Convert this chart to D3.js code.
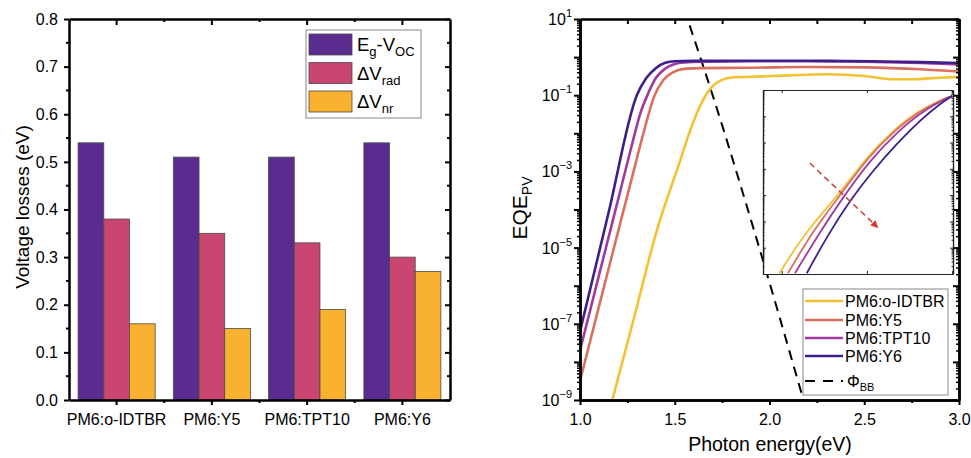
<!DOCTYPE html>
<html><head><meta charset="utf-8">
<script src="https://cdn.jsdelivr.net/npm/d3@7"></script>
<style>
body{margin:0;background:#fff}
svg{display:block}
text{font-family:"Liberation Sans",Arial,sans-serif;fill:#000}
</style>
</head><body>
<svg id="c" width="971" height="458"></svg>
<script>
// ---------------- data: left panel (voltage losses) ----------------
const categories = ["PM6:o-IDTBR", "PM6:Y5", "PM6:TPT10", "PM6:Y6"];
const lossKeys = ["egVoc", "dVrad", "dVnr"];
const egVoc = [0.54, 0.51, 0.51, 0.54];
const dVrad = [0.38, 0.35, 0.33, 0.30];
const dVnr  = [0.16, 0.15, 0.19, 0.27];
const lossTicks = [0, 0.1, 0.2, 0.3, 0.4, 0.5, 0.6, 0.7, 0.8];
const lossColors = ["#5b2c8f", "#c8466f", "#f9b130"];

// ---------------- data: right panel (EQE_PV vs photon energy) ----------------
const energyTicks = [1.0, 1.5, 2.0, 2.5, 3.0];
const eqeLabelTicks = [1e1, 1e-1, 1e-3, 1e-5, 1e-7, 1e-9];
// [photon energy (eV), EQE]
const eqeIDTBR = [[1.16,6.3e-10],[1.29,1.78e-7],[1.406,2.88e-5],[1.512,1.10e-3],[1.617,0.0339],[1.67,0.112],[1.74,0.240],[1.81,0.295],[1.9,0.302],[2.1,0.331],[2.3,0.355],[2.5,0.32],[2.65,0.263],[2.75,0.263],[2.9,0.288],[3.0,0.302]];
const eqeY5 = [[1.0,3.16e-9],[1.10,2.82e-7],[1.20,2.51e-5],[1.28,8.91e-4],[1.34,0.0126],[1.39,0.0891],[1.44,0.251],[1.49,0.398],[1.55,0.490],[1.65,0.513],[1.9,0.525],[2.2,0.55],[2.5,0.537],[2.8,0.479],[3.0,0.417]];
const eqeTPT10 = [[1.0,2.0e-8],[1.10,1.86e-6],[1.20,1.74e-4],[1.27,4.17e-3],[1.32,0.0355],[1.36,0.112],[1.40,0.282],[1.45,0.501],[1.50,0.661],[1.55,0.724],[1.65,0.759],[1.9,0.776],[2.2,0.78],[2.5,0.76],[2.8,0.70],[3.0,0.64]];
const eqeY6 = [[1.0,6.3e-8],[1.15,7.94e-5],[1.30,0.1],[1.35,0.282],[1.40,0.513],[1.45,0.708],[1.50,0.776],[1.6,0.794],[1.8,0.80],[2.0,0.80],[2.2,0.80],[2.4,0.79],[2.6,0.77],[2.8,0.74],[3.0,0.70]];
const phiBB = [[1.55,18],[1.70,0.1],[1.918,2.88e-5],[2.185,7.9e-10]];
const eqeNames = ["PM6:o-IDTBR", "PM6:Y5", "PM6:TPT10", "PM6:Y6"];
const eqeColors = ["#f3c232", "#d9705f", "#a03a9e", "#3d1f8c"];

// ---------------- data: inset (normalized sub-gap EQE) ----------------
const insetTicksX = [1.3, 1.4, 1.5];
const insIDTBR = [[1.2972,1.07e-7],[1.3294,4.79e-6],[1.3686,1.17e-4],[1.3998,2.88e-3],[1.4313,0.0302],[1.4588,0.151],[1.4862,0.417],[1.5,0.589]];
const insY5    = [[1.3074,1.07e-7],[1.3356,3.98e-6],[1.3686,1.0e-4],[1.4015,2.82e-3],[1.432,0.0275],[1.460,0.145],[1.4862,0.398],[1.5,0.589]];
const insTPT10 = [[1.3156,1.07e-7],[1.3427,3.09e-6],[1.3721,8.51e-5],[1.4039,2.19e-3],[1.4345,0.0234],[1.4627,0.135],[1.4886,0.417],[1.5,0.589]];
const insY6    = [[1.3294,1.07e-7],[1.3529,2.63e-6],[1.3804,6.61e-5],[1.4078,9.12e-4],[1.4353,9.33e-3],[1.4627,0.0724],[1.4862,0.309],[1.5,0.589]];
const insArrow = [[1.333,1.66e-3],[1.412,6.17e-6]];

const svg = d3.select("#c");
svg.append("rect").attr("width",971).attr("height",458).attr("fill","#fff");

function styleAxis(g, fs){
  g.attr("font-family",null).attr("font-size",null);
  g.selectAll("path.domain").attr("stroke","#000").attr("stroke-width",2.5);
  g.selectAll(".tick line").attr("stroke","#000").attr("stroke-width",2);
  g.selectAll(".tick text").attr("font-size",fs).attr("fill","#000");
}

// ================= LEFT PANEL =================
const L = {x0:69, x1:450, y0:19, y1:400};
const xb = d3.scaleBand().domain(categories).range([L.x0, L.x1]).paddingInner(0).paddingOuter(0);
const xs = d3.scaleBand().domain(lossKeys).range([9.1, xb.bandwidth()-9.1]);
const yl = d3.scaleLinear().domain([0, 0.8]).range([L.y1, L.y0]);
const lossData = {egVoc, dVrad, dVnr};

const gL = svg.append("g");
categories.forEach((c, i) => {
  lossKeys.forEach((k, j) => {
    gL.append("rect")
      .attr("x", xb(c) + xs(k))
      .attr("y", yl(lossData[k][i]))
      .attr("width", xs.bandwidth())
      .attr("height", yl(0) - yl(lossData[k][i]))
      .attr("fill", lossColors[j])
      .attr("stroke", "#4a4a4a").attr("stroke-width", 0.8);
  });
});

const lossMinor = d3.range(0.05, 0.8, 0.1);
const catBounds = categories.slice(1).map(c => xb(c));

let ax = gL.append("g").attr("transform",`translate(0,${L.y1})`)
  .call(d3.axisBottom(xb).tickSize(5).tickSizeOuter(0).tickPadding(9));
styleAxis(ax, 16);
catBounds.forEach(b => gL.append("line").attr("x1",b).attr("x2",b).attr("y1",L.y1).attr("y2",L.y1+3).attr("stroke","#000").attr("stroke-width",2));
ax = gL.append("g").attr("transform",`translate(0,${L.y0})`)
  .call(d3.axisTop(xb).tickSize(-6).tickSizeOuter(0).tickFormat(""));
styleAxis(ax, 16);
catBounds.forEach(b => gL.append("line").attr("x1",b).attr("x2",b).attr("y1",L.y0).attr("y2",L.y0+3).attr("stroke","#000").attr("stroke-width",2));
ax = gL.append("g").attr("transform",`translate(${L.x0},0)`)
  .call(d3.axisLeft(yl).tickValues(lossTicks).tickSize(5).tickPadding(6).tickSizeOuter(0).tickFormat(d3.format(".1f")));
styleAxis(ax, 16);
lossMinor.forEach(v => gL.append("line").attr("x1",L.x0-3).attr("x2",L.x0).attr("y1",yl(v)).attr("y2",yl(v)).attr("stroke","#000").attr("stroke-width",2));
ax = gL.append("g").attr("transform",`translate(${L.x1},0)`)
  .call(d3.axisRight(yl).tickValues(lossTicks).tickSize(-5).tickSizeOuter(0).tickFormat(""));
styleAxis(ax, 16);
lossMinor.forEach(v => gL.append("line").attr("x1",L.x1-3).attr("x2",L.x1).attr("y1",yl(v)).attr("y2",yl(v)).attr("stroke","#000").attr("stroke-width",2));

gL.append("text").attr("transform","translate(29,207) rotate(-90)")
  .attr("text-anchor","middle").attr("font-size",19).text("Voltage losses (eV)");

const lg = gL.append("g");
lg.append("rect").attr("x",306).attr("y",30).attr("width",115).attr("height",88)
  .attr("fill","#fff").attr("stroke","#888").attr("stroke-width",1);
const legRows = [
  [["E",""],["g","sub"],["-V",""],["OC","sub"]],
  [["ΔV",""],["rad","sub"]],
  [["ΔV",""],["nr","sub"]]
];
legRows.forEach((parts, i) => {
  const yy = 34 + i*28.5;
  lg.append("rect").attr("x",309).attr("y",yy).attr("width",43).attr("height",21)
    .attr("fill",lossColors[i]).attr("stroke","#4a4a4a").attr("stroke-width",0.8);
  const t = lg.append("text").attr("x",357).attr("y",yy+17).attr("font-size",18.5);
  let sub = false;
  parts.forEach(([s, kind]) => {
    const ts = t.append("tspan").text(s);
    if (kind === "sub" && !sub) { ts.attr("font-size",13).attr("dy",5); sub = true; }
    else if (kind === "sub" && sub) { ts.attr("font-size",13); }
    else if (kind !== "sub" && sub) { ts.attr("dy",-5); sub = false; }
  });
});

// ================= RIGHT PANEL =================
const R = {x0:580, x1:959, y0:19, y1:400};
const xe = d3.scaleLinear().domain([1, 3]).range([R.x0, R.x1]);
const ye = d3.scaleLog().domain([1e-9, 1e1]).range([R.y1, R.y0]);
const gR = svg.append("g");
gR.append("clipPath").attr("id","clipR").append("rect")
  .attr("x",R.x0).attr("y",R.y0).attr("width",R.x1-R.x0).attr("height",R.y1-R.y0);

const lineE = d3.line().x(d => xe(d[0])).y(d => ye(d[1])).curve(d3.curveMonotoneX);
const eqeSeries = [eqeIDTBR, eqeY5, eqeTPT10, eqeY6];
const curves = gR.append("g").attr("clip-path","url(#clipR)");
curves.append("path").datum(phiBB).attr("d", lineE).attr("fill","none")
  .attr("stroke","#000").attr("stroke-width",2).attr("stroke-dasharray","10,7");
eqeSeries.forEach((s, i) => {
  curves.append("path").datum(s).attr("d", lineE).attr("fill","none")
    .attr("stroke", eqeColors[i]).attr("stroke-width", 2.6);
});

const decades = d3.range(-9, 2).map(k => Math.pow(10, k));
const logMinor = [];
d3.range(-9, 1).forEach(k => d3.range(2, 10).forEach(m => logMinor.push(m * Math.pow(10, k))));
const eMinor = [1.25, 1.75, 2.25, 2.75];

ax = gR.append("g").attr("transform",`translate(0,${R.y1})`)
  .call(d3.axisBottom(xe).tickValues(energyTicks).tickSize(5).tickPadding(9).tickSizeOuter(0).tickFormat(d3.format(".1f")));
styleAxis(ax, 16);
ax = gR.append("g").attr("transform",`translate(0,${R.y1})`)
  .call(d3.axisBottom(xe).tickValues(eMinor).tickSize(3).tickSizeOuter(0).tickFormat(""));
styleAxis(ax, 16);
ax = gR.append("g").attr("transform",`translate(0,${R.y0})`)
  .call(d3.axisTop(xe).tickValues(energyTicks.concat(eMinor)).tickSize(-5).tickSizeOuter(0).tickFormat(""));
styleAxis(ax, 16);

ax = gR.append("g").attr("transform",`translate(${R.x0},0)`)
  .call(d3.axisLeft(ye).tickValues(decades).tickSize(6).tickSizeOuter(0).tickFormat(""));
styleAxis(ax, 16);
ax = gR.append("g").attr("transform",`translate(${R.x0},0)`)
  .call(d3.axisLeft(ye).tickValues(logMinor).tickSize(3).tickSizeOuter(0).tickFormat(""));
styleAxis(ax, 16); ax.selectAll(".tick line").attr("stroke-width",1.5);
ax = gR.append("g").attr("transform",`translate(${R.x1},0)`)
  .call(d3.axisRight(ye).tickValues(decades).tickSize(-6).tickSizeOuter(0).tickFormat(""));
styleAxis(ax, 16);
ax = gR.append("g").attr("transform",`translate(${R.x1},0)`)
  .call(d3.axisRight(ye).tickValues(logMinor).tickSize(-3).tickSizeOuter(0).tickFormat(""));
styleAxis(ax, 16); ax.selectAll(".tick line").attr("stroke-width",1.5);

eqeLabelTicks.forEach(v => {
  const e = Math.round(Math.log10(v));
  const t = gR.append("text").attr("x", R.x0 - 8).attr("y", ye(v) + 6)
    .attr("text-anchor","end").attr("font-size",16);
  t.append("tspan").text("10");
  t.append("tspan").attr("font-size",11).attr("dy",-8).text(e < 0 ? "\u2212" + (-e) : String(e));
});

gR.append("text").attr("transform","translate(527,208) rotate(-90)")
  .attr("text-anchor","middle").attr("font-size",21)
  .call(t => { t.append("tspan").text("EQE"); t.append("tspan").attr("font-size",14).attr("dy",5).text("PV"); });
gR.append("text").attr("x",770).attr("y",451).attr("text-anchor","middle")
  .attr("font-size",19.5).text("Photon energy(eV)");

// ---------------- inset ----------------
const I = {x0:763, x1:953, y0:90, y1:274};
const xi = d3.scaleLinear().domain([1.278, 1.501]).range([I.x0, I.x1]);
const yi = d3.scaleLog().domain([1e-7, 1]).range([I.y1, I.y0]);
const gI = gR.append("g");
gI.append("rect").attr("x",I.x0).attr("y",I.y0).attr("width",I.x1-I.x0).attr("height",I.y1-I.y0)
  .attr("fill","#fff");
gI.append("clipPath").attr("id","clipI").append("rect")
  .attr("x",I.x0).attr("y",I.y0).attr("width",I.x1-I.x0).attr("height",I.y1-I.y0);
const lineI = d3.line().x(d => xi(d[0])).y(d => yi(d[1])).curve(d3.curveBasis);
const insSeries = [insIDTBR, insY5, insTPT10, insY6];
const ic = gI.append("g").attr("clip-path","url(#clipI)");
insSeries.forEach((s, i) => {
  ic.append("path").datum(s).attr("d", lineI).attr("fill","none")
    .attr("stroke", eqeColors[i]).attr("stroke-width", 1.8);
});
const defs = svg.append("defs");
defs.append("marker").attr("id","arr").attr("viewBox","0 0 10 10").attr("refX",8).attr("refY",5)
  .attr("markerWidth",5).attr("markerHeight",5).attr("orient","auto")
  .append("path").attr("d","M0,0 L10,5 L0,10 z").attr("fill","#d23a2c");
gI.append("line")
  .attr("x1", xi(insArrow[0][0])).attr("y1", yi(insArrow[0][1]))
  .attr("x2", xi(insArrow[1][0])).attr("y2", yi(insArrow[1][1]))
  .attr("stroke","#c0453a").attr("stroke-width",1.5).attr("stroke-dasharray","6,4")
  .attr("marker-end","url(#arr)");
const insDec = d3.range(-7, 1).map(k => Math.pow(10, k));
const insMinor = [];
d3.range(-7, 0).forEach(k => d3.range(2, 10).forEach(m => insMinor.push(m * Math.pow(10, k))));
function thin(g){ g.attr("font-family",null).attr("font-size",null);
  g.selectAll("path.domain").attr("stroke","#222").attr("stroke-width",1.2);
  g.selectAll(".tick line").attr("stroke","#222").attr("stroke-width",1); }
thin(gI.append("g").attr("transform",`translate(0,${I.y1})`).call(d3.axisBottom(xi).tickValues(insetTicksX).tickSize(-3).tickSizeOuter(0).tickFormat("")));
thin(gI.append("g").attr("transform",`translate(0,${I.y0})`).call(d3.axisTop(xi).tickValues(insetTicksX).tickSize(-3).tickSizeOuter(0).tickFormat("")));
thin(gI.append("g").attr("transform",`translate(${I.x0},0)`).call(d3.axisLeft(yi).tickValues(insDec).tickSize(-3).tickSizeOuter(0).tickFormat("")));
thin(gI.append("g").attr("transform",`translate(${I.x0},0)`).call(d3.axisLeft(yi).tickValues(insMinor).tickSize(-1.5).tickSizeOuter(0).tickFormat("")));
thin(gI.append("g").attr("transform",`translate(${I.x1},0)`).call(d3.axisRight(yi).tickValues(insDec).tickSize(-3).tickSizeOuter(0).tickFormat("")));
thin(gI.append("g").attr("transform",`translate(${I.x1},0)`).call(d3.axisRight(yi).tickValues(insMinor).tickSize(-1.5).tickSizeOuter(0).tickFormat("")));

const rg = gR.append("g");
rg.append("rect").attr("x",803).attr("y",289).attr("width",145).attr("height",106)
  .attr("fill","#fff").attr("stroke","#888").attr("stroke-width",1);
const rowY = [301, 320, 338, 356];
eqeNames.forEach((n, i) => {
  rg.append("line").attr("x1",805).attr("x2",843).attr("y1",rowY[i]).attr("y2",rowY[i])
    .attr("stroke",eqeColors[i]).attr("stroke-width",2.6);
  rg.append("text").attr("x",845).attr("y",rowY[i]+6).attr("font-size",16).text(n);
});
rg.append("line").attr("x1",805).attr("x2",843).attr("y1",381).attr("y2",381)
  .attr("stroke","#000").attr("stroke-width",2).attr("stroke-dasharray","10,8");
rg.append("text").attr("x",847).attr("y",387).attr("font-size",16)
  .call(t => { t.append("tspan").text("Φ"); t.append("tspan").attr("font-size",11).attr("dy",4).text("BB"); });
</script>
</body></html>
